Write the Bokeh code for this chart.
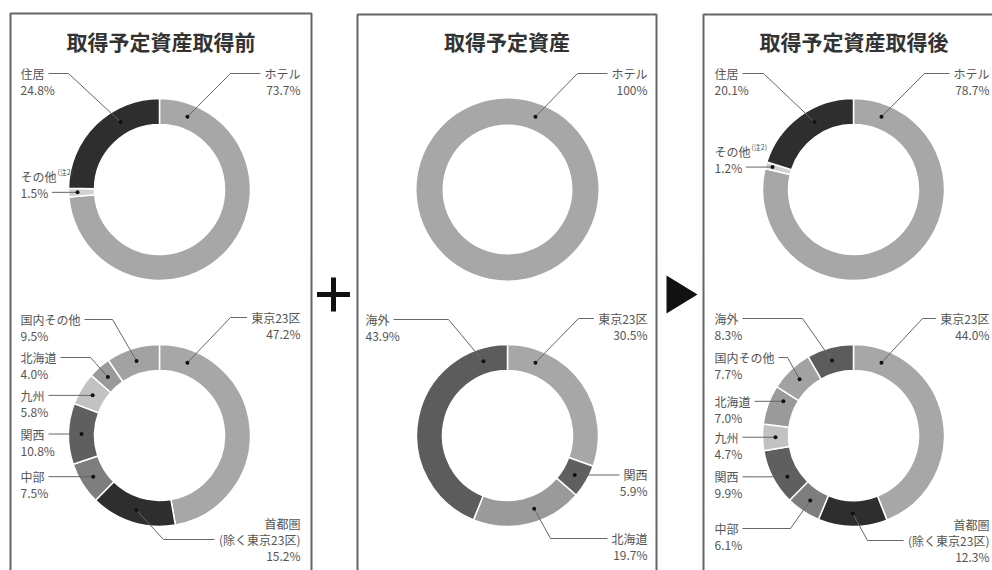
import math
from bokeh.plotting import figure
from bokeh.models import Range1d, ColumnDataSource
from bokeh.core.properties import value
from bokeh.embed import file_html
from bokeh.resources import INLINE

# ---------------- data ----------------
panel_titles = ["取得予定資産取得前", "取得予定資産", "取得予定資産取得後"]

use_before_labels = ["ホテル", "その他", "住居"]
use_before_values = [73.7, 1.5, 24.8]
use_target_labels = ["ホテル"]
use_target_values = [100.0]
use_after_labels = ["ホテル", "その他", "住居"]
use_after_values = [78.7, 1.2, 20.1]

area_before_labels = ["東京23区", "首都圏", "中部", "関西", "九州", "北海道", "国内その他"]
area_before_values = [47.2, 15.2, 7.5, 10.8, 5.8, 4.0, 9.5]
area_target_labels = ["東京23区", "関西", "北海道", "海外"]
area_target_values = [30.5, 5.9, 19.7, 43.9]
area_after_labels = ["東京23区", "首都圏", "中部", "関西", "九州", "北海道", "国内その他", "海外"]
area_after_values = [44.0, 12.3, 6.1, 9.9, 4.7, 7.0, 7.7, 8.3]

label_lines = {"首都圏": ["首都圏", "(除く東京23区)"]}
superscripts = {"その他": "(注2)"}

# ---------------- style ----------------
colors = {
    "ホテル": "#a7a7a7", "住居": "#2e2e2e", "その他": "#d2d2d2",
    "東京23区": "#a7a7a7", "首都圏": "#2e2e2e", "中部": "#7e7e7e",
    "関西": "#5f5f5f", "九州": "#c2c2c2", "北海道": "#9a9a9a",
    "国内その他": "#a2a2a2", "海外": "#5c5c5c",
}
JP = value("Noto Sans CJK JP")
TXT = "#555555"
LINE = "#666666"
W, H = 992, 570
OX, OY = 0, 0
RI, RO, RM = 65, 91, 78


def X(sx):
    return sx - OX


def Y(sy):
    return H + OY - sy


def tw(s):
    w = 0.0
    for c in s:
        if ord(c) > 255:
            w += 12
        elif c in "()":
            w += 4.2
        elif c == ".":
            w += 3.2
        elif c == "%":
            w += 10.5
        else:
            w += 6.8
    return w


def pct(v):
    return "100%" if v >= 100 else f"{v:.1f}%"


p = figure(width=W, height=H, output_backend="svg", toolbar_location=None,
           x_range=Range1d(0, W), y_range=Range1d(0, H),
           x_axis_type=None, y_axis_type=None, min_border=0)
p.grid.visible = False
p.outline_line_color = None
p.background_fill_color = "white"
p.border_fill_color = "white"

# panels
panels = [  # left, right, top
    (10, 311, 13),
    (357, 656, 14),
    (703, 1004, 14),
]
for (l, r, t), title in zip(panels, panel_titles):
    p.quad(left=X(l), right=X(r), top=Y(t), bottom=Y(640), fill_color=None,
           line_color=LINE, line_width=2)
    p.text(x=[X((l + r) / 2)], y=[Y(40)], text=[title], text_font=JP,
           text_font_size="21px", text_font_style="bold", text_color="#333333",
           text_align="center", text_baseline="middle")

# plus & arrow
p.rect(x=[X(333), X(333)], y=[Y(294), Y(294)], width=[33, 5], height=[5, 34],
       fill_color="#111111", line_color=None)
p.patch(x=[X(666), X(666), X(697)], y=[Y(275), Y(313), Y(294)],
        fill_color="#111111", line_color=None)

leaders_x, leaders_y, dots_x, dots_y = [], [], [], []
lt = {"x": [], "y": [], "t": []}
rt = {"x": [], "y": [], "t": []}
sup = {"x": [], "y": [], "t": []}


def donut(cx, cy, labels, values, layout, tl, tr):
    total = sum(values)
    cum = 0.0
    st, en, col, mids = [], [], [], {}
    for lab, v in zip(labels, values):
        a0 = cum / total * 360
        cum += v
        a1 = cum / total * 360
        st.append(math.radians(90 - a1))
        en.append(math.radians(90 - a0))
        col.append(colors[lab])
        mids[lab] = (a0 + a1) / 2
    src = ColumnDataSource(dict(s=st, e=en, c=col))
    p.annular_wedge(x=X(cx), y=Y(cy), inner_radius=RI, outer_radius=RO,
                    start_angle="s", end_angle="e", fill_color="c",
                    line_color="white", line_width=1.5,
                    line_alpha=1.0 if len(values) > 1 else 0.0, source=src)
    for lab, v in zip(labels, values):
        e = layout[lab]
        th = math.radians(e.get("ang", mids[lab]))
        r = e.get("r", RM)
        dx, dy = cx + r * math.sin(th), cy - r * math.cos(th)
        ly = e.get("y", dy)
        idx = e.get("idx", 0)
        lines = label_lines.get(lab, [lab]) + [pct(v)]
        y0 = ly - idx * 16
        w = tw(lines[idx])
        if e["side"] == "L":
            xs = tl + w + 4
            tgt = lt
            tx = tl
        else:
            xs = tr - w - 4
            tgt = rt
            tx = tr
        for k, s in enumerate(lines):
            tgt["x"].append(X(tx))
            tgt["y"].append(Y(y0 + k * 16))
            tgt["t"].append(s)
        if lab in superscripts:
            sup["x"].append(X(tl + tw(lab) + 1))
            sup["y"].append(Y(y0 - 4))
            sup["t"].append(superscripts[lab])
        px = [xs]
        py = [ly]
        if "elbow" in e:
            px.append(e["elbow"])
            py.append(ly)
        px.append(dx)
        py.append(dy)
        leaders_x.append([X(a) for a in px])
        leaders_y.append([Y(b) for b in py])
        dots_x.append(X(dx))
        dots_y.append(Y(dy))


donut(159, 189, use_before_labels, use_before_values, {
    "ホテル": dict(side="R", y=73, elbow=230, ang=21),
    "その他": dict(side="L", idx=1, r=82),
    "住居": dict(side="L", y=73, elbow=68, ang=330),
}, 20, 300)
donut(159, 435, area_before_labels, area_before_values, {
    "東京23区": dict(side="R", y=317, elbow=230, ang=21),
    "首都圏": dict(side="R", idx=1, y=539, elbow=163),
    "中部": dict(side="L"),
    "関西": dict(side="L"),
    "九州": dict(side="L"),
    "北海道": dict(side="L", y=357, elbow=90),
    "国内その他": dict(side="L", y=319, elbow=112),
}, 20, 300)
donut(507, 189, use_target_labels, use_target_values, {
    "ホテル": dict(side="R", y=73, elbow=577, ang=21),
}, 365, 647)
donut(507, 435, area_target_labels, area_target_values, {
    "東京23区": dict(side="R", y=318, elbow=578, ang=21),
    "関西": dict(side="R"),
    "北海道": dict(side="R", y=538, elbow=550, ang=160),
    "海外": dict(side="L", y=319, elbow=448, ang=342),
}, 365, 647)
donut(853, 189, use_after_labels, use_after_values, {
    "ホテル": dict(side="R", y=73, elbow=924, ang=21),
    "その他": dict(side="L", idx=1, r=84),
    "住居": dict(side="L", y=73, elbow=763, ang=330),
}, 714, 989)
donut(853, 435, area_after_labels, area_after_values, {
    "東京23区": dict(side="R", y=318, elbow=922, ang=21),
    "首都圏": dict(side="R", idx=1, y=540, elbow=867),
    "中部": dict(side="L", y=528, elbow=790),
    "関西": dict(side="L", ang=238),
    "九州": dict(side="L"),
    "北海道": dict(side="L", ang=296),
    "国内その他": dict(side="L", y=357, elbow=787),
    "海外": dict(side="L", y=318, elbow=802, ang=344),
}, 714, 989)

p.multi_line(xs=leaders_x, ys=leaders_y, line_color=LINE, line_width=1)
p.scatter(x=dots_x, y=dots_y, size=4, fill_color="#111111", line_color=None)
p.text(x="x", y="y", text="t", source=ColumnDataSource(lt), text_font=JP,
       text_font_size="12px", text_color=TXT, text_align="left",
       text_baseline="middle")
p.text(x="x", y="y", text="t", source=ColumnDataSource(rt), text_font=JP,
       text_font_size="12px", text_color=TXT, text_align="right",
       text_baseline="middle")
p.text(x="x", y="y", text="t", source=ColumnDataSource(sup), text_font=JP,
       text_font_size="7px", text_color=TXT, text_align="left",
       text_baseline="middle")

open("out.html", "w").write(file_html(p, INLINE))
